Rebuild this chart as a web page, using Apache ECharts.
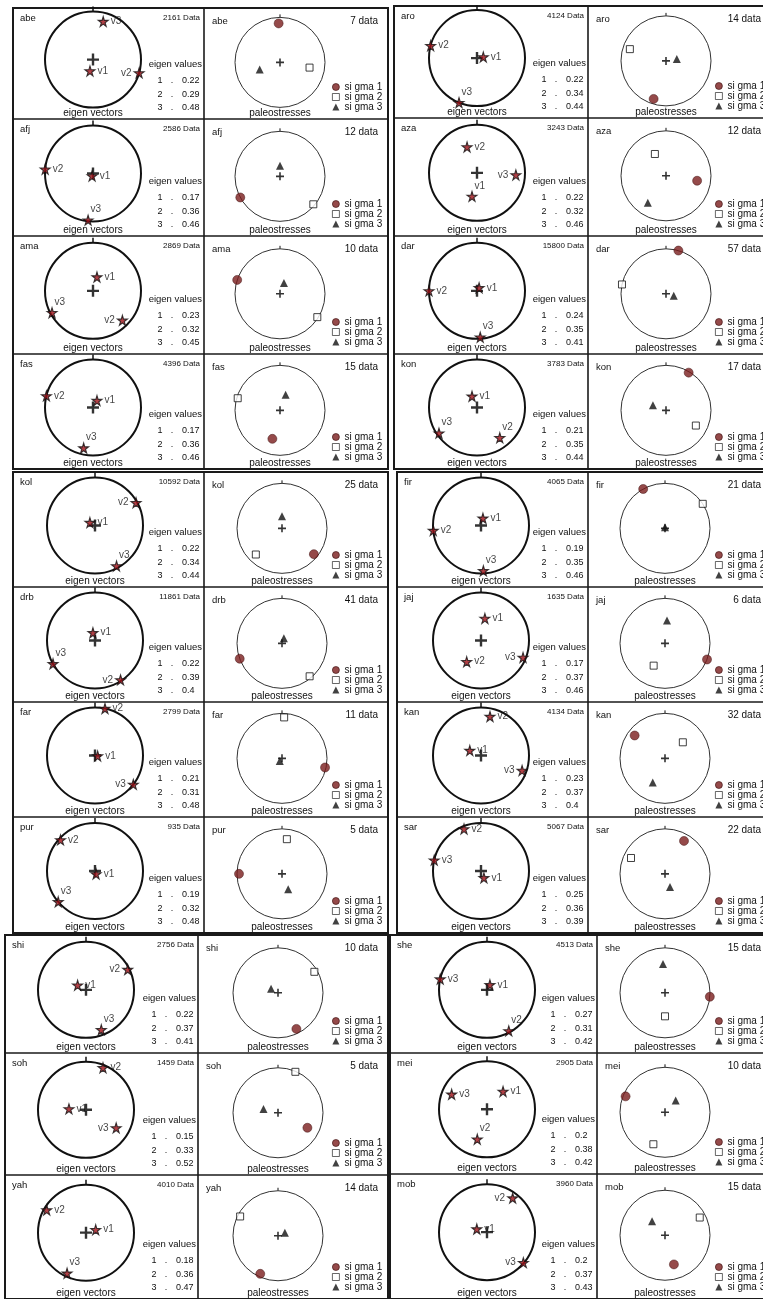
<!DOCTYPE html>
<html>
<head>
<meta charset="utf-8">
<script src="https://cdn.jsdelivr.net/npm/echarts@6/dist/echarts.min.js"></script>
<style>
html, body { margin: 0; padding: 0; background: #fff; }
#main { width: 763px; height: 1299px; }
</style>
</head>
<body>
<div id="main"></div>
<script>
// sites: left column top->bottom, then right column top->bottom
var sites = ['abe', 'afj', 'ama', 'fas', 'kol', 'drb', 'far', 'pur', 'shi', 'soh', 'yah',
             'aro', 'aza', 'dar', 'kon', 'fir', 'jaj', 'kan', 'sar', 'she', 'mei', 'mob'];
var eigenCounts = [2161, 2586, 2869, 4396, 10592, 11861, 2799, 935, 2756, 1459, 4010,
                   4124, 3243, 15800, 3783, 4065, 1635, 4134, 5067, 4513, 2905, 3960];
var paleoCounts = [7, 12, 10, 15, 25, 41, 11, 5, 10, 5, 14,
                   14, 12, 57, 17, 21, 6, 32, 22, 15, 10, 15];
var eigenValues = [
    [0.22, 0.29, 0.48], [0.17, 0.36, 0.46], [0.23, 0.32, 0.45], [0.17, 0.36, 0.46],
    [0.22, 0.34, 0.44], [0.22, 0.39, 0.4], [0.21, 0.31, 0.48], [0.19, 0.32, 0.48],
    [0.22, 0.37, 0.41], [0.15, 0.33, 0.52], [0.18, 0.36, 0.47],
    [0.22, 0.34, 0.44], [0.22, 0.32, 0.46], [0.24, 0.35, 0.41], [0.21, 0.35, 0.44],
    [0.19, 0.35, 0.46], [0.17, 0.37, 0.46], [0.23, 0.37, 0.4], [0.25, 0.36, 0.39],
    [0.27, 0.31, 0.42], [0.2, 0.38, 0.42], [0.2, 0.37, 0.43]
];
// [azimuth, plunge] of v1, v2, v3
var eigenVectors = [
    [[195, 68], [106, 0], [15, 16]],
    [[200, 85], [275, 0], [186, 2]],
    [[16, 63], [135, 12], [242, 3]],
    [[30, 75], [284, 0], [193, 12]],
    [[300, 79], [61, 2], [152, 4]],
    [[345, 75], [147, 2], [241, 0]],
    [[100, 85], [12, 0], [127, 0]],
    [[160, 84], [312, 3], [230, 0]],
    [[299, 72], [64, 3], [159, 10]],
    [[273, 58], [22, 5], [121, 24]],
    [[73, 71], [300, 5], [205, 6]],
    [[80, 78], [285, 0], [202, 0]],
    [[192, 45], [339, 38], [93, 17]],
    [[34, 83], [270, 0], [176, 3]],
    [[336, 67], [143, 19], [236, 4]],
    [[15, 76], [264, 0], [177, 5]],
    [[10, 48], [214, 42], [112, 5]],
    [[294, 67], [13, 15], [110, 8]],
    [[157, 76], [338, 5], [283, 0]],
    [[30, 79], [152, 3], [283, 0]],
    [[42, 45], [198, 31], [293, 18]],
    [[287, 70], [37, 10], [130, 1]]
];
// [azimuth, plunge] of sigma 1, sigma 2, sigma 3
var paleoStresses = [
    [[358, 12], [100, 30], [251, 47]],
    [[242, 0], [130, 3], [0, 69]],
    [[288, 0], [122, 2], [20, 67]],
    [[195, 31], [286, 2], [20, 57]],
    [[129, 8], [225, 16], [0, 66]],
    [[250, 0], [140, 4], [20, 79]],
    [[102, 2], [3, 8], [220, 83]],
    [[270, 4], [8, 20], [158, 57]],
    [[153, 9], [60, 6], [300, 74]],
    [[117, 24], [23, 1], [285, 60]],
    [[205, 6], [297, 5], [67, 75]],
    [[198, 10], [288, 14], [80, 68]],
    [[99, 27], [333, 41], [214, 25]],
    [[16, 0], [282, 0], [104, 74]],
    [[31, 2], [117, 23], [291, 62]],
    [[331, 0], [57, 0], [0, 88]],
    [[111, 0], [207, 40], [5, 44]],
    [[307, 14], [48, 42], [207, 36]],
    [[30, 14], [295, 15], [159, 62]],
    [[95, 0], [180, 43], [356, 32]],
    [[292, 5], [200, 22], [42, 58]],
    [[163, 29], [63, 12], [317, 52]]
];
var sigmaNames = ['si gma 1', 'si gma 2', 'si gma 3'];

// page layout: blocks of rows
var groups = [
    {x0: 13, xd: 204, x1: 388, rows: [8, 119, 236, 354, 469], ex: 93, px: 280, first: 0},
    {x0: 13, xd: 204, x1: 388, rows: [472, 587, 702, 817, 933], ex: 95, px: 282, first: 4},
    {x0: 5, xd: 198, x1: 388, rows: [935, 1053, 1175, 1299], ex: 86, px: 278, first: 8},
    {x0: 394, xd: 588, x1: 771, rows: [6, 118, 236, 354, 469], ex: 477, px: 666, first: 11},
    {x0: 397, xd: 588, x1: 771, rows: [472, 587, 702, 817, 933], ex: 481, px: 665, first: 15},
    {x0: 390, xd: 597, x1: 771, rows: [935, 1053, 1174, 1299], ex: 487, px: 665, first: 19}
];

var FONT = 'Liberation Sans, Arial, Helvetica, sans-serif';
var STAR = 'path://M50,0L61,35L98,35L68,57L79,91L50,70L21,91L32,57L2,35L39,35Z';
var PLUS = 'path://M4,0h2v4h4v2h-4v4h-2v-4h-4v-2h4z';

var polar = [], angleAxis = [], radiusAxis = [], series = [], legend = [], graphic = [];

function txt(x, y, s, size, align) {
    return {
        type: 'text', x: x, y: y, silent: true,
        style: {
            text: s, fontSize: size, fontFamily: FONT, fill: '#111',
            align: align || 'left', textAlign: align || 'left',
            verticalAlign: 'middle', textVerticalAlign: 'middle'
        }
    };
}

function line(x1, y1, x2, y2, w) {
    return {type: 'line', silent: true, shape: {x1: x1, y1: y1, x2: x2, y2: y2},
            style: {stroke: '#1a1a1a', lineWidth: w}};
}

function addStereo(cx, cy, r, thick) {
    var idx = polar.length;
    polar.push({center: [cx, cy], radius: r});
    angleAxis.push({
        polarIndex: idx, type: 'value', min: 0, max: 360, interval: 360,
        startAngle: 90, clockwise: true,
        axisLine: {lineStyle: {color: thick ? '#111' : '#333', width: thick ? 2 : 1}},
        axisTick: {show: true, length: thick ? 5 : 3, lineStyle: {color: '#111', width: thick ? 1.5 : 1}},
        axisLabel: {show: false}, splitLine: {show: false}
    });
    radiusAxis.push({
        polarIndex: idx, type: 'value', min: 0, max: 90, inverse: true, show: false,
        axisLine: {show: false}, axisTick: {show: false}, axisLabel: {show: false},
        splitLine: {show: false}
    });
    series.push({
        type: 'scatter', coordinateSystem: 'polar', polarIndex: idx, silent: true, z: 1,
        symbol: PLUS, symbolSize: thick ? 12 : 8,
        itemStyle: {color: '#000'},
        data: [[90, 0]]
    });
    return idx;
}

// where to put the v1/v2/v3 label beside a star
function labelPos(v) {
    var f = 1 - v[1] / 90, a = v[0] * Math.PI / 180;
    var dx = Math.sin(a) * f, dy = -Math.cos(a) * f;
    if (dx > 0.5) return 'left';
    if (dy > 0.45) return [8, -10];
    return 'right';
}

groups.forEach(function (g) {
    var rows = g.rows;
    var top = rows[0], bot = rows[rows.length - 1];
    // frames
    graphic.push({type: 'rect', silent: true, shape: {x: g.x0, y: top, width: g.x1 - g.x0, height: bot - top},
                  style: {fill: 'none', stroke: '#1a1a1a', lineWidth: 2}});
    graphic.push(line(g.xd, top, g.xd, bot, 1.6));
    for (var k = 1; k < rows.length - 1; k++) graphic.push(line(g.x0, rows[k], g.x1, rows[k], 1.6));

    for (var j = 0; j < rows.length - 1; j++) {
        var i = g.first + j;
        var t = rows[j], b = rows[j + 1], h = b - t;

        // eigen vectors panel
        var ep = addStereo(g.ex, t + h * 0.465, 48, true);
        series.push({
            type: 'scatter', coordinateSystem: 'polar', polarIndex: ep, silent: true, z: 3,
            symbol: STAR, symbolSize: 10,
            itemStyle: {color: '#9e1018', borderColor: '#111', borderWidth: 1.1},
            label: {
                show: true, fontSize: 10, fontFamily: FONT, color: '#111', distance: 2,
                formatter: function (p) { return 'v' + (p.dataIndex + 1); }
            },
            data: eigenVectors[i].map(function (v) {
                return {value: [v[1], v[0]], label: {position: labelPos(v)}};
            })
        });
        graphic.push(txt(g.x0 + 7, t + 10, sites[i], 9.5));
        graphic.push(txt(g.xd - 4, t + 10, eigenCounts[i] + ' Data', 8, 'right'));
        graphic.push(txt(g.xd - 2, b - 55, 'eigen values', 9.5, 'right'));
        eigenValues[i].forEach(function (ev, k) {
            var y = b - 38 + 13.5 * k;
            graphic.push(txt(g.xd - 44, y, String(k + 1), 9, 'center'));
            graphic.push(txt(g.xd - 32, y, '.', 9, 'center'));
            graphic.push(txt(g.xd - 22, y, String(ev), 9));
        });
        graphic.push(txt(g.ex, b - 6, 'eigen vectors', 10, 'center'));

        // paleostresses panel
        var pp = addStereo(g.px, t + h * 0.49, 45, false);
        var styles = [
            {symbol: 'circle', symbolSize: 9, itemStyle: {color: '#7a1d1d', borderColor: '#3a0c0c', borderWidth: 0.6}},
            {symbol: 'rect', symbolSize: 7, itemStyle: {color: '#fff', borderColor: '#111', borderWidth: 1}},
            {symbol: 'triangle', symbolSize: 8, itemStyle: {color: '#111'}}
        ];
        paleoStresses[i].forEach(function (s, k) {
            series.push({
                name: sigmaNames[k], type: 'scatter', coordinateSystem: 'polar', polarIndex: pp,
                silent: true, z: 3,
                symbol: styles[k].symbol, symbolSize: styles[k].symbolSize, itemStyle: styles[k].itemStyle,
                data: [[s[1], s[0]]]
            });
        });
        legend.push({
            orient: 'vertical', left: g.x1 - 56, top: b - 37, padding: 0,
            itemWidth: 7, itemHeight: 7, itemGap: 0, selectedMode: false,
            itemStyle: {borderWidth: 0.8},
            textStyle: {fontSize: 10, fontFamily: FONT, color: '#111', padding: [0, 0, 0, 0]},
            data: sigmaNames
        });
        graphic.push(txt(g.xd + 8, t + 13, sites[i], 9.5));
        graphic.push(txt(g.x1 - 10, t + 13, paleoCounts[i] + ' data', 10, 'right'));
        graphic.push(txt(g.px, b - 6, 'paleostresses', 10, 'center'));
    }
});

var chart = echarts.init(document.getElementById('main'));
chart.setOption({
    animation: false,
    backgroundColor: '#fff',
    polar: polar,
    angleAxis: angleAxis,
    radiusAxis: radiusAxis,
    legend: legend,
    series: series,
    graphic: graphic
});
</script>
</body>
</html>
